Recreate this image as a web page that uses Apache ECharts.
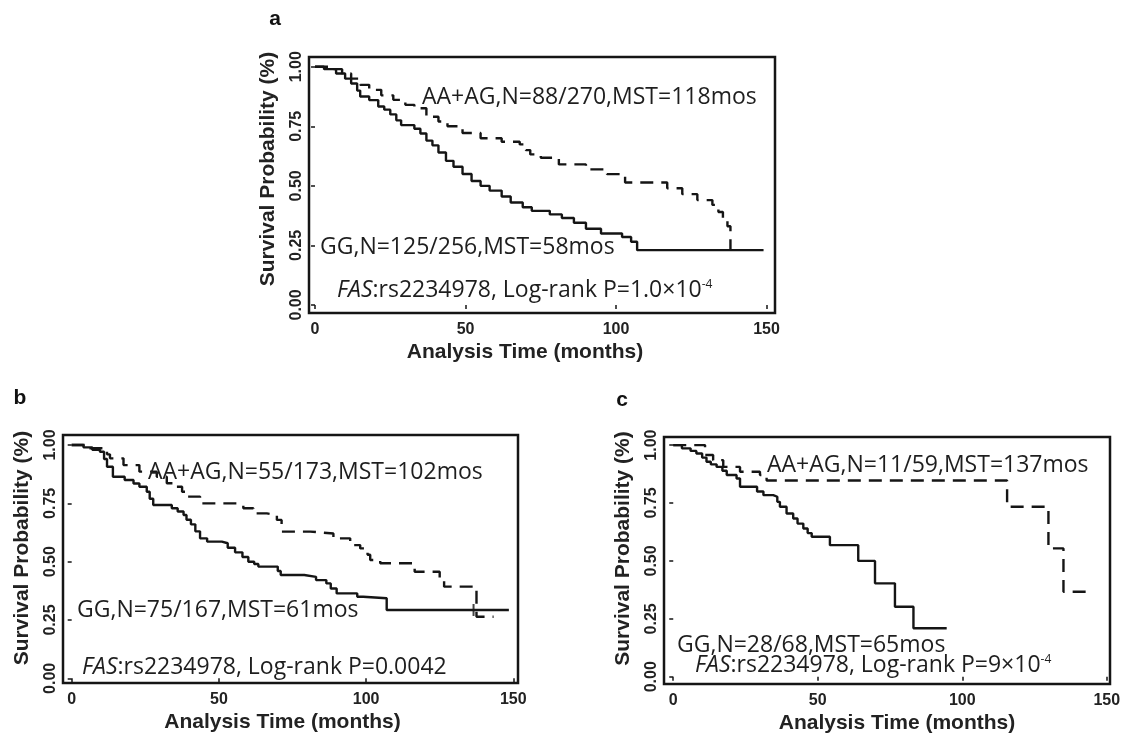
<!DOCTYPE html>
<html><head><meta charset="utf-8">
<script src="https://cdn.jsdelivr.net/npm/echarts@6/dist/echarts.min.js"></script>
<style>html,body{margin:0;padding:0;background:#fff}#c{width:1130px;height:738px}</style>
</head><body><div id="c"></div>
<script>
// ---- data ----
const xTicks = [0, 50, 100, 150];
const yTicks = [0, 0.25, 0.5, 0.75, 1];
const xTitle = 'Analysis Time (months)';
const yTitle = 'Survival Probability (%)';
const panelLetters = ['a', 'b', 'c'];

// (time of step, survival after step)
const aGG = [[0,1],[3,0.99],[7,0.972],[10,0.95],[12,0.93],[14,0.9],[15,0.875],[18,0.86],[21,0.833],[23,0.82],[25,0.8],[27,0.775],[28.6,0.755],[33,0.74],[35,0.72],[37,0.69],[39,0.67],[41,0.64],[43.5,0.605],[46,0.58],[49,0.55],[52,0.52],[55,0.5],[58,0.48],[62,0.455],[65,0.43],[69,0.41],[72,0.395],[78,0.38],[82,0.365],[86,0.345],[90,0.32],[95,0.3],[102,0.285],[105,0.265],[107,0.23],[149,0.23]];
const aAAAG = [[0,1],[6,0.99],[9,0.972],[12,0.95],[15,0.924],[18,0.903],[22,0.88],[26,0.861],[30,0.84],[33,0.826],[37,0.79],[41,0.77],[44,0.75],[49,0.722],[55,0.7],[62,0.685],[68,0.674],[70,0.65],[71.5,0.632],[75,0.618],[81,0.59],[90,0.569],[97,0.549],[103,0.514],[117,0.49],[122,0.465],[127,0.44],[132,0.42],[134,0.39],[135.5,0.36],[137,0.33],[138,0.23]];

const bGG = [[0,1],[4,0.99],[7,0.98],[9.6,0.971],[11,0.94],[12,0.907],[14,0.864],[18,0.85],[21,0.835],[23,0.821],[25.5,0.8],[26.5,0.77],[27.7,0.743],[34,0.729],[36,0.715],[38,0.7],[39,0.68],[40.5,0.66],[42,0.63],[43.6,0.6],[46,0.586],[51,0.579],[53,0.56],[55.5,0.54],[58,0.52],[60,0.5],[62,0.49],[63.4,0.479],[70,0.46],[71,0.443],[79,0.435],[83,0.421],[86.5,0.407],[88,0.385],[90,0.364],[97,0.35],[99,0.343],[107,0.293],[148.5,0.293]];
const bAAAG = [[0,1],[5,0.986],[12,0.96],[13,0.943],[17.6,0.914],[23,0.886],[28.9,0.864],[32.3,0.836],[35.7,0.821],[37.5,0.8],[39.1,0.779],[43.6,0.75],[57,0.743],[58.3,0.729],[61.7,0.707],[66.3,0.7],[69.7,0.679],[71.3,0.629],[81,0.621],[88.9,0.6],[94.6,0.571],[98,0.557],[100.5,0.53],[101.4,0.507],[104.8,0.493],[116.5,0.457],[125,0.421],[126.5,0.393],[137.5,0.264],[143.3,0.264]];
const bCensor = [[136.5,0.293]];

const cGG = [[0,1],[3,0.986],[6,0.975],[8,0.964],[10,0.946],[11.5,0.928],[13,0.917],[15,0.906],[17,0.889],[18.5,0.871],[21.9,0.856],[23.1,0.82],[29,0.8],[31.2,0.784],[34.6,0.777],[36,0.755],[36.9,0.734],[39.2,0.705],[41.5,0.683],[43,0.661],[45,0.64],[46.5,0.62],[47.9,0.604],[54.2,0.568],[64,0.5],[69.8,0.403],[76.7,0.302],[83.1,0.209],[94.6,0.209]];
const cAAAG = [[0,1],[11,0.957],[13.8,0.935],[17.3,0.906],[23.1,0.885],[30,0.871],[32.3,0.847],[115.5,0.734],[129.8,0.554],[135,0.367],[145.4,0.367]];

const labelsAA = ['AA+AG,N=88/270,MST=118mos', 'AA+AG,N=55/173,MST=102mos', 'AA+AG,N=11/59,MST=137mos'];
const labelsGG = ['GG,N=125/256,MST=58mos', 'GG,N=75/167,MST=61mos', 'GG,N=28/68,MST=65mos'];
const pValues = ['1.0×10{s|-4}', '0.0042', '9×10{s|-4}'];

// ---- layout ----
const grids = [
  {left: 309, top: 57, width: 466, height: 256, xmin: -2, xmax: 152.8, ymin: -0.034, ymax: 1.041, xPad: [0, 34, 0, 0], yPad: [0, 0, 0, 32]},
  {left: 63, top: 435, width: 455, height: 248, xmin: -2.95, xmax: 151.6, ymin: -0.02, ymax: 1.043, xPad: [0, 16, 0, 0], yPad: [0, 0, 0, 22]},
  {left: 664, top: 437, width: 446, height: 247, xmin: -3.2, xmax: 151.1, ymin: -0.0315, ymax: 1.035, xPad: [0, 0, 0, 20], yPad: [0, 0, 0, 24]}
];
const ink = '#151515';
const tickFont = {fontFamily: 'Liberation Sans', fontWeight: 'bold', fontSize: 16, color: '#222'};
const titleFont = {fontFamily: 'Liberation Sans', fontWeight: 'bold', fontSize: 21, color: '#222'};

const option = {
  animation: false,
  backgroundColor: '#fff',
  grid: grids.map(g => ({left: g.left, top: g.top, width: g.width, height: g.height, show: true, borderColor: ink, borderWidth: 2.5, backgroundColor: 'transparent'})),
  xAxis: grids.map((g, i) => ({
    type: 'value', gridIndex: i, min: g.xmin, max: g.xmax,
    axisLine: {show: false}, splitLine: {show: false},
    axisTick: {show: true, inside: false, length: 4, lineStyle: {color: ink, width: 1.5}, customValues: xTicks},
    axisLabel: Object.assign({show: true, margin: 9, customValues: xTicks, formatter: v => String(v)}, tickFont),
    name: xTitle, nameLocation: 'middle', nameGap: 29, nameTextStyle: Object.assign({padding: g.xPad}, titleFont)
  })),
  yAxis: grids.map((g, i) => ({
    type: 'value', gridIndex: i, min: g.ymin, max: g.ymax,
    axisLine: {show: false}, splitLine: {show: false},
    axisTick: {show: true, inside: false, length: 4, lineStyle: {color: ink, width: 1.5}, customValues: yTicks},
    axisLabel: Object.assign({show: true, margin: 4, rotate: 90, customValues: yTicks, formatter: v => v.toFixed(2)}, tickFont),
    name: yTitle, nameLocation: 'middle', nameGap: 30, nameTextStyle: Object.assign({padding: g.yPad}, titleFont)
  })),
  series: [],
  graphic: []
};

const curves = [[aGG, aAAAG], [bGG, bAAAG], [cGG, cAAAG]];
curves.forEach((pair, i) => {
  option.series.push({type: 'line', xAxisIndex: i, yAxisIndex: i, data: pair[0], step: 'end', showSymbol: false, lineStyle: {color: ink, width: 2.4, type: 'solid'}, z: 3});
  option.series.push({type: 'line', xAxisIndex: i, yAxisIndex: i, data: pair[1], step: 'end', showSymbol: false, lineStyle: {color: ink, width: 2.4, type: [13, 8]}, z: 3});
});
option.series.push({type: 'scatter', xAxisIndex: 1, yAxisIndex: 1, data: bCensor, symbol: 'rect', symbolSize: [2, 12], itemStyle: {color: ink}});

// annotation text positions (pixels)
const annoPos = [
  {aa: [422, 97], gg: [320, 247], p: [337, 290], letter: [275, 19]},
  {aa: [148, 472], gg: [77, 610], p: [82, 667], letter: [20, 398]},
  {aa: [767, 465], gg: [677, 645], p: [695, 665], letter: [622, 400]}
];
const annoStyle = {fontFamily: 'Open Sans', fontSize: 23, fill: '#1e1e1e', verticalAlign: 'middle'};
annoPos.forEach((p, i) => {
  option.graphic.push({type: 'text', x: p.aa[0], y: p.aa[1], style: Object.assign({text: labelsAA[i]}, annoStyle), z: 10});
  option.graphic.push({type: 'text', x: p.gg[0], y: p.gg[1], style: Object.assign({text: labelsGG[i]}, annoStyle), z: 10});
  option.graphic.push({type: 'text', x: p.p[0], y: p.p[1], style: Object.assign({
    text: '{i|FAS}:rs2234978, Log-rank P=' + pValues[i],
    rich: {i: {fontStyle: 'italic', fontFamily: 'Open Sans', fontSize: 23, fill: '#1e1e1e'}, s: {fontFamily: 'Open Sans', fontSize: 12, fill: '#1e1e1e', verticalAlign: 'top', padding: [0, 0, 10, 0]}}
  }, annoStyle), z: 10});
  option.graphic.push({type: 'text', x: p.letter[0], y: p.letter[1], style: {text: panelLetters[i], fontFamily: 'Liberation Sans', fontWeight: 'bold', fontSize: 21, fill: '#111', align: 'center', verticalAlign: 'middle'}, z: 10});
});

const chart = echarts.init(document.getElementById('c'), null, {renderer: 'canvas'});
chart.setOption(option);
</script>
</body></html>
